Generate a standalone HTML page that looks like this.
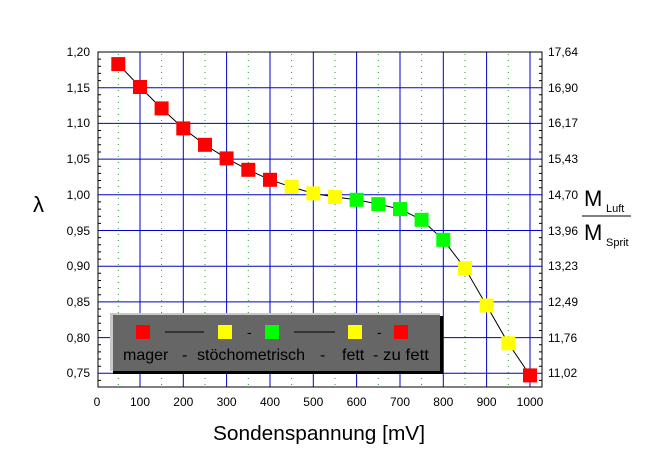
<!DOCTYPE html>
<html><head><meta charset="utf-8"><style>
body{margin:0;background:#fff}
svg text{font-family:"Liberation Sans",Arial,sans-serif}
</style></head><body>
<svg width="659" height="456" viewBox="0 0 659 456" xmlns="http://www.w3.org/2000/svg">
<rect width="659" height="456" fill="#fff"/>
<g stroke="#2aa02a" stroke-width="1" stroke-dasharray="1,5">
<line x1="118.3" y1="54" x2="118.3" y2="386"/><line x1="161.6" y1="54" x2="161.6" y2="386"/>
<line x1="205" y1="54" x2="205" y2="386"/><line x1="248.3" y1="54" x2="248.3" y2="386"/>
<line x1="291.6" y1="54" x2="291.6" y2="386"/><line x1="335" y1="54" x2="335" y2="386"/>
<line x1="378.3" y1="54" x2="378.3" y2="386"/><line x1="421.6" y1="54" x2="421.6" y2="386"/>
<line x1="465" y1="54" x2="465" y2="386"/><line x1="508.3" y1="54" x2="508.3" y2="386"/>
</g>
<g stroke="#0000c8" stroke-width="1">
<line x1="140" y1="52" x2="140" y2="387"/><line x1="183.3" y1="52" x2="183.3" y2="387"/>
<line x1="226.6" y1="52" x2="226.6" y2="387"/><line x1="270" y1="52" x2="270" y2="387"/>
<line x1="313.3" y1="52" x2="313.3" y2="387"/><line x1="356.6" y1="52" x2="356.6" y2="387"/>
<line x1="400" y1="52" x2="400" y2="387"/><line x1="443.3" y1="52" x2="443.3" y2="387"/>
<line x1="486.6" y1="52" x2="486.6" y2="387"/><line x1="530" y1="52" x2="530" y2="387"/>
<line x1="98" y1="87.7" x2="542" y2="87.7"/><line x1="98" y1="123.4" x2="542" y2="123.4"/>
<line x1="98" y1="159.1" x2="542" y2="159.1"/><line x1="98" y1="194.8" x2="542" y2="194.8"/>
<line x1="98" y1="230.5" x2="542" y2="230.5"/><line x1="98" y1="266.2" x2="542" y2="266.2"/>
<line x1="98" y1="301.9" x2="542" y2="301.9"/><line x1="98" y1="337.6" x2="542" y2="337.6"/>
<line x1="98" y1="373.3" x2="542" y2="373.3"/>
</g>
<rect x="98" y="52" width="444" height="335" fill="none" stroke="#000" stroke-width="1"/>
<g stroke="#000" stroke-width="1">
<path d="M98,59.1h3M98,66.3h3M98,73.4h3M98,80.6h3M98,94.8h3M98,102h3M98,109.1h3M98,116.3h3M98,130.5h3M98,137.7h3M98,144.8h3M98,152h3M98,166.2h3M98,173.4h3M98,180.5h3M98,187.7h3M98,201.9h3M98,209.1h3M98,216.2h3M98,223.4h3M98,237.6h3M98,244.8h3M98,251.9h3M98,259.1h3M98,273.3h3M98,280.5h3M98,287.6h3M98,294.8h3M98,309h3M98,316.2h3M98,323.3h3M98,330.5h3M98,344.7h3M98,351.9h3M98,359h3M98,366.2h3M98,380.4h3"/>
<path d="M542,59.1h-3M542,66.3h-3M542,73.4h-3M542,80.6h-3M542,94.8h-3M542,102h-3M542,109.1h-3M542,116.3h-3M542,130.5h-3M542,137.7h-3M542,144.8h-3M542,152h-3M542,166.2h-3M542,173.4h-3M542,180.5h-3M542,187.7h-3M542,201.9h-3M542,209.1h-3M542,216.2h-3M542,223.4h-3M542,237.6h-3M542,244.8h-3M542,251.9h-3M542,259.1h-3M542,273.3h-3M542,280.5h-3M542,287.6h-3M542,294.8h-3M542,309h-3M542,316.2h-3M542,323.3h-3M542,330.5h-3M542,344.7h-3M542,351.9h-3M542,359h-3M542,366.2h-3M542,380.4h-3"/>
</g>
<polyline fill="none" stroke="#000" stroke-width="1" points="118.3,64.1 140,87 161.6,108.4 183.3,128.4 205,144.8 226.6,158.4 248.3,169.8 270,179.8 291.6,187 313.3,193.4 335,197 356.6,199.8 378.3,204.1 400,209.1 421.6,219.8 443.3,239.8 465,268.3 486.6,305.5 508.3,343.3 530,375.4"/>
<g>
<rect x="111.3" y="57.1" width="14" height="14" fill="#f00"/>
<rect x="133" y="80" width="14" height="14" fill="#f00"/>
<rect x="154.6" y="101.4" width="14" height="14" fill="#f00"/>
<rect x="176.3" y="121.4" width="14" height="14" fill="#f00"/>
<rect x="198" y="137.8" width="14" height="14" fill="#f00"/>
<rect x="219.6" y="151.4" width="14" height="14" fill="#f00"/>
<rect x="241.3" y="162.8" width="14" height="14" fill="#f00"/>
<rect x="263" y="172.8" width="14" height="14" fill="#f00"/>
<rect x="284.6" y="180" width="14" height="14" fill="#ff0"/>
<rect x="306.3" y="186.4" width="14" height="14" fill="#ff0"/>
<rect x="328" y="190" width="14" height="14" fill="#ff0"/>
<rect x="349.6" y="192.8" width="14" height="14" fill="#0f0"/>
<rect x="371.3" y="197.1" width="14" height="14" fill="#0f0"/>
<rect x="393" y="202.1" width="14" height="14" fill="#0f0"/>
<rect x="414.6" y="212.8" width="14" height="14" fill="#0f0"/>
<rect x="436.3" y="232.8" width="14" height="14" fill="#0f0"/>
<rect x="458" y="261.3" width="14" height="14" fill="#ff0"/>
<rect x="479.6" y="298.5" width="14" height="14" fill="#ff0"/>
<rect x="501.3" y="336.3" width="14" height="14" fill="#ff0"/>
<rect x="523" y="368.4" width="14" height="14" fill="#f00"/>
</g>
<rect x="113" y="316" width="330" height="58" fill="#000"/>
<rect x="110" y="313" width="330" height="58" fill="#c8c8c8"/>
<rect x="113" y="315" width="327" height="56" fill="#666"/>
<rect x="136" y="325" width="14" height="14" fill="#f00"/>
<line x1="165" y1="332" x2="204" y2="332" stroke="#000"/>
<rect x="218" y="325" width="14" height="14" fill="#ff0"/>
<text x="247" y="337" font-size="14" fill="#000">-</text>
<rect x="265" y="325" width="14" height="14" fill="#0f0"/>
<line x1="294" y1="332" x2="335" y2="332" stroke="#000"/>
<rect x="348" y="325" width="14" height="14" fill="#ff0"/>
<text x="377" y="337" font-size="14" fill="#000">-</text>
<rect x="394" y="325" width="14" height="14" fill="#f00"/>
<g font-size="16" fill="#000">
<text x="123" y="360">mager</text>
<text x="182" y="360">-</text>
<text x="197" y="360" textLength="108" lengthAdjust="spacingAndGlyphs">stöchometrisch</text>
<text x="320" y="360">-</text>
<text x="342" y="360">fett</text>
<text x="373" y="360">-</text>
<text x="383" y="360" textLength="46" lengthAdjust="spacingAndGlyphs">zu fett</text>
</g>
<g font-size="12" fill="#000" text-anchor="end">
<text x="90" y="56">1,20</text><text x="90" y="92">1,15</text><text x="90" y="127">1,10</text>
<text x="90" y="163">1,05</text><text x="90" y="199">1,00</text><text x="90" y="235">0,95</text>
<text x="90" y="270">0,90</text><text x="90" y="306">0,85</text><text x="90" y="342">0,80</text>
<text x="90" y="377">0,75</text>
</g>
<g font-size="12" fill="#000">
<text x="548" y="56">17,64</text><text x="548" y="92">16,90</text><text x="548" y="127">16,17</text>
<text x="548" y="163">15,43</text><text x="548" y="199">14,70</text><text x="548" y="235">13,96</text>
<text x="548" y="270">13,23</text><text x="548" y="306">12,49</text><text x="548" y="342">11,76</text>
<text x="548" y="377">11,02</text>
</g>
<g font-size="12" fill="#000" text-anchor="middle">
<text x="97" y="406">0</text><text x="140" y="406">100</text><text x="183.3" y="406">200</text>
<text x="226.6" y="406">300</text><text x="270" y="406">400</text><text x="313.3" y="406">500</text>
<text x="356.6" y="406">600</text><text x="400" y="406">700</text><text x="443.3" y="406">800</text>
<text x="486.6" y="406">900</text><text x="530" y="406">1000</text>
</g>
<text x="319" y="440" font-size="20" text-anchor="middle" fill="#000" textLength="212" lengthAdjust="spacingAndGlyphs">Sondenspannung [mV]</text>
<text x="33" y="212" font-size="22" fill="#000" font-family="Liberation Serif,serif">λ</text>
<text x="584" y="206" font-size="22" fill="#000">M</text>
<text x="606" y="212" font-size="11" fill="#000">Luft</text>
<line x1="582" y1="216" x2="631" y2="216" stroke="#000"/>
<text x="584" y="240" font-size="22" fill="#000">M</text>
<text x="606" y="246" font-size="11" fill="#000">Sprit</text>
</svg>
</body></html>
